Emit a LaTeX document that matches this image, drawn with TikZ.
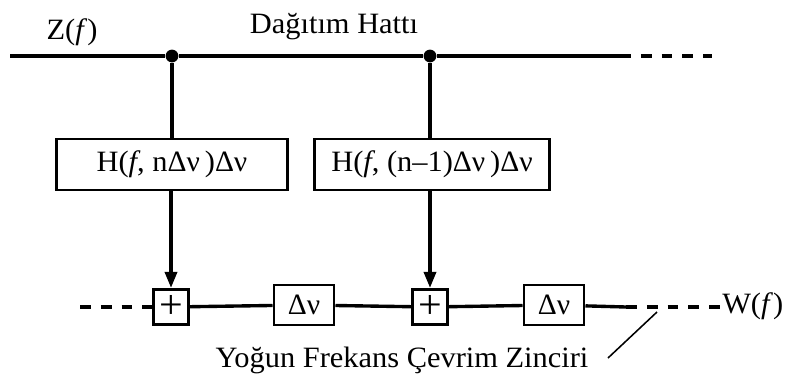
\documentclass[tikz,border=0pt]{standalone}
\usepackage{fontspec}
\setmainfont[FakeStretch=1.03]{Liberation Serif}
\newfontfamily\grk{Liberation Serif}
\newcommand{\dnu}{{\grk Δν}}
\usetikzlibrary{arrows.meta}

\begin{document}
\begin{tikzpicture}[x=0.025cm,y=-0.025cm,
  line/.style={line width=2.4pt},
  dashline/.style={line width=2.4pt,dash pattern=on 0.27cm off 0.25cm},
  dot/.style={circle,fill,inner sep=0pt,minimum size=0.32cm},
  lbl/.style={font=\fontsize{21}{24}\selectfont,inner sep=0pt},
  filt/.style={draw,line width=2.1pt,minimum width=5.75cm,minimum height=1.275cm,font=\fontsize{21}{24}\selectfont},
  sumbox/.style={draw,line width=2.1pt,minimum size=0.88cm,inner sep=0pt,font=\fontsize{29}{30}\selectfont},
  delay/.style={draw,line width=2.1pt,minimum width=1.5cm,minimum height=1cm,inner sep=0pt,font=\fontsize{21}{24}\selectfont},
  tip/.style={-{Triangle[length=0.4cm,width=0.3cm]}}]
\useasboundingbox (0,0) rectangle (798,376);

% distribution line
\coordinate (zl) at (10,56);
\node[dot] (j1) at (172,56) {};
\node[dot] (j2) at (430,56) {};
\coordinate (zr) at (620,56);
\coordinate (ze) at (712,56);
\draw[line] (zl) -- (j1) -- (j2) -- (zr);
\draw[dashline] (zr) -- (ze);
\node[lbl,anchor=base] (zf) at (72,39) {Z(\textit{f})};
\node[lbl,anchor=base] (dh) at (334,33) {Dağıtım Hattı};

% filters
\node[filt] (h1) at (172,164.5) {H(\textit{f}, n\dnu\,)\dnu};
\node[filt,minimum width=5.85cm] (h2) at (432,164.5) {H(\textit{f}, (n–1)\dnu\,)\dnu};
\draw[line] (j1) -- (j1 |- h1.north);
\draw[line] (j2) -- (j2 |- h2.north);

% chain
\node[sumbox] (s1) at (171,307) {+};
\node[delay] (d1) at (304,305) {\dnu};
\node[sumbox] (s2) at (430,307) {+};
\node[delay] (d2) at (554,305) {\dnu};
\draw[line,tip] (s1 |- h1.south) -- (s1.north);
\draw[line,tip] (s2 |- h2.south) -- (s2.north);
\coordinate (cl) at (80,307);
\coordinate (cr) at (626,307);
\coordinate (ce) at (721,307);
\draw[dashline] (cl) -- (s1.west);
\draw[line] (s1) -- (d1) -- (s2) -- (d2) -- (cr);
\draw[dashline] (cr) -- (ce);
\node[lbl,anchor=base west] (wf) at (722,313) {W(\textit{f})};

% chain label
\node[lbl,anchor=base] (yz) at (402,367) {Yoğun Frekans Çevrim Zinciri};
\coordinate (lp) at (657,312);
\coordinate (lq) at (608,358);
\draw[line width=1.1pt] (lp) -- (lq);
\end{tikzpicture}
\end{document}
